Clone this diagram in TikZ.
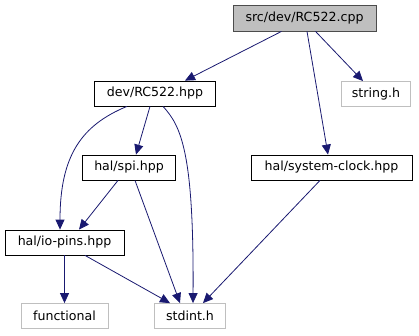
\documentclass[tikz,border=0pt]{standalone}
\usepackage{fontspec}
\setmainfont{DejaVu Sans}
\usetikzlibrary{arrows.meta}
\definecolor{edgeblue}{HTML}{191970}

\tikzset{
  file/.style={draw=black, fill=white, thick, minimum height=25pt, inner sep=0pt, font=\fontsize{12.6}{15}\selectfont},
  mainfile/.style={file, draw=black!70, fill=black!25, minimum height=26pt},
  sysfile/.style={file, draw=black!25},
  dep/.style={draw=edgeblue, thick, -{Triangle[length=10pt,width=9pt]}}
}

\begin{document}
\begin{tikzpicture}[x=1pt,y=-1pt]
\useasboundingbox (0,0) rectangle (419,336);
%
% files
\node[mainfile, minimum width=143pt] (cpp) at (304.5,18) {src/dev/RC522.cpp};
\node[file, minimum width=121pt] (hpp) at (155,93.5) {dev/RC522.hpp};
\node[sysfile, minimum width=69pt] (str) at (376,94) {string.h};
\node[file, minimum width=93pt] (spi) at (129,167.5) {hal/spi.hpp};
\node[file, minimum width=161pt] (clk) at (331.5,167.5) {hal/system-clock.hpp};
\node[file, minimum width=119pt] (io) at (64.5,242.5) {hal/io-pins.hpp};
\node[sysfile, minimum width=87pt] (fun) at (64.5,316) {functional};
\node[sysfile, minimum width=71pt] (std) at (190,316) {stdint.h};

% includes of the source file
\draw[dep] ([xshift=-23pt]cpp.south) -- ([xshift=30pt]hpp.north);
\draw[dep] ([xshift=11pt]cpp.south) -- ([xshift=-13pt]str.north);
\draw[dep] ([xshift=2.5pt]cpp.south) -- ([xshift=-3.5pt]clk.north);

% dev/RC522.hpp
\draw[dep] ([xshift=-5pt]hpp.south) -- ([xshift=7pt]spi.north);
\draw[dep] ([xshift=-28pt]hpp.south) .. controls (82,125) and (60,155) .. ([xshift=-4.5pt]io.north);
\draw[dep] ([xshift=8pt]hpp.south) .. controls (181,126) and (194,152) .. ([xshift=3pt]std.north);

% hal
\draw[dep] ([xshift=-11pt]spi.south) -- ([xshift=14.5pt]io.north);
\draw[dep] ([xshift=6pt]spi.south) -- ([xshift=-10pt]std.north);
\draw[dep] ([xshift=-11.5pt]clk.south) -- ([xshift=13pt]std.north);
\draw[dep] (io.south) -- (fun.north);
\draw[dep] ([xshift=20.5pt]io.south) -- ([xshift=-20pt]std.north);

\end{tikzpicture}
\end{document}
